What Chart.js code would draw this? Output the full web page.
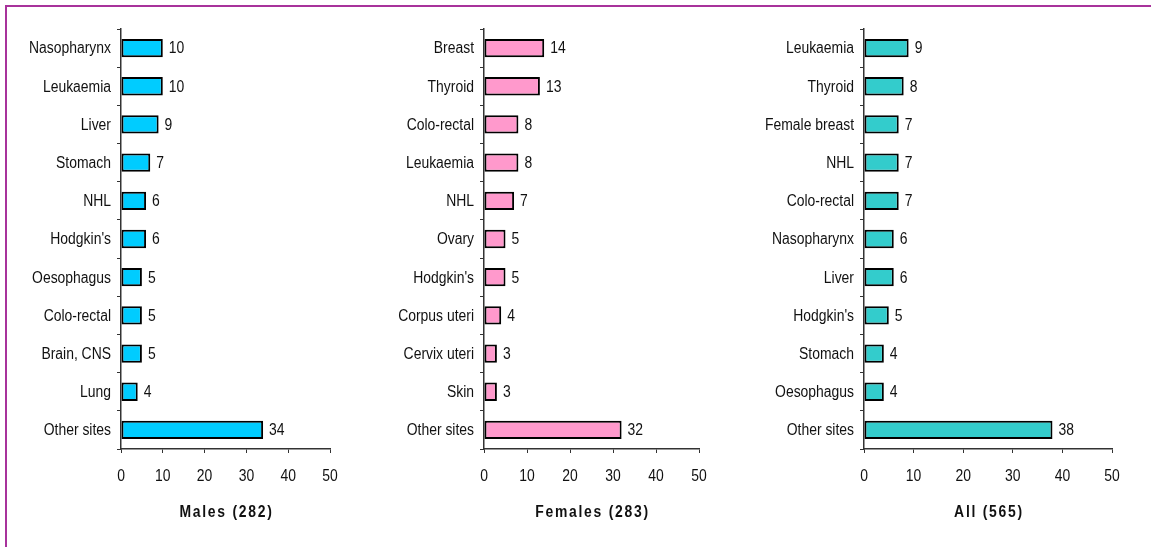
<!DOCTYPE html>
<html>
<head>
<meta charset="utf-8">
<script src="https://cdn.jsdelivr.net/npm/chart.js@4.4.1/dist/chart.umd.min.js"></script>
<style>
  html, body { margin: 0; padding: 0; background: #fff; }
  body { width: 1151px; height: 547px; position: relative; overflow: hidden; }
  .frame {
    position: absolute; left: 5px; top: 5px; right: -10px; bottom: -10px;
    border-left: 2px solid #A8329B; border-top: 2px solid #A8329B;
  }
  .panel { position: absolute; top: 8px; height: 539px; }
</style>
</head>
<body>
<div class="frame"></div>
<div class="panel" id="p-males"><canvas id="chart-males"></canvas></div>
<div class="panel" id="p-females"><canvas id="chart-females"></canvas></div>
<div class="panel" id="p-all"><canvas id="chart-all"></canvas></div>

<script>
// ── DATA ──
const maleSites    = ['Nasopharynx', 'Leukaemia', 'Liver', 'Stomach', 'NHL', "Hodgkin's",
                      'Oesophagus', 'Colo-rectal', 'Brain, CNS', 'Lung', 'Other sites'];
const maleValues   = [10, 10, 9, 7, 6, 6, 5, 5, 5, 4, 34];

const femaleSites  = ['Breast', 'Thyroid', 'Colo-rectal', 'Leukaemia', 'NHL', 'Ovary',
                      "Hodgkin's", 'Corpus uteri', 'Cervix uteri', 'Skin', 'Other sites'];
const femaleValues = [14, 13, 8, 8, 7, 5, 5, 4, 3, 3, 32];

const allSites     = ['Leukaemia', 'Thyroid', 'Female breast', 'NHL', 'Colo-rectal', 'Nasopharynx',
                      'Liver', "Hodgkin's", 'Stomach', 'Oesophagus', 'Other sites'];
const allValues    = [9, 8, 7, 7, 7, 6, 6, 5, 4, 4, 38];

const panelTitles  = ['Males (282)', 'Females (283)', 'All (565)'];
const xTicks       = [0, 10, 20, 30, 40, 50];

// ── STYLE ──
const FONT_FAMILY = "'Liberation Sans', Arial, sans-serif";
const INK = '#111111';
const NARROW = 0.87;   // horizontal squeeze, the original uses a narrow face

// panel placement (page px): canvas left, axis x, x=50 position, canvas width
const panels = [
    { id: 'males',   left: 8,   axisX: 121, endX: 330,  width: 362, color: '#00CCFF', sites: maleSites,   values: maleValues,   title: panelTitles[0] },
    { id: 'females', left: 380, axisX: 484, endX: 699,  width: 370, color: '#FF99CC', sites: femaleSites, values: femaleValues, title: panelTitles[1] },
    { id: 'all',     left: 760, axisX: 864, endX: 1112, width: 391, color: '#33CCCC', sites: allSites,    values: allValues,    title: panelTitles[2] }
];
const PLOT_TOP = 29, PLOT_BOTTOM = 449, PANEL_TOP = 8, PANEL_BOTTOM = 547;

function narrowText(ctx, text, x, y, align) {
    ctx.save();
    ctx.translate(x, y);
    ctx.scale(NARROW, 1);
    ctx.textAlign = align;
    ctx.fillText(text, 0, 0);
    ctx.restore();
}

// all labels: category names, x ticks, bar values, panel title
const narrowLabels = {
    id: 'narrowLabels',
    afterDraw(chart, args, opts) {
        const ctx = chart.ctx;
        const xs = chart.scales.x, ys = chart.scales.y;
        const area = chart.chartArea;
        const meta = chart.getDatasetMeta(0);
        const vals = chart.data.datasets[0].data;

        ctx.save();
        ctx.fillStyle = INK;
        ctx.textBaseline = 'middle';
        ctx.font = '16px ' + FONT_FAMILY;

        chart.data.labels.forEach((lab, i) => {
            narrowText(ctx, lab, area.left - 10, ys.getPixelForValue(i) + 1, 'right');
        });
        xTicks.forEach(v => {
            narrowText(ctx, String(v), xs.getPixelForValue(v), 477 - PANEL_TOP, 'center');
        });
        meta.data.forEach((bar, i) => {
            narrowText(ctx, String(vals[i]), bar.x + 6, bar.y + 1, 'left');
        });

        ctx.font = 'bold 16px ' + FONT_FAMILY;
        ctx.letterSpacing = '2px';
        narrowText(ctx, opts.title, (area.left + area.right) / 2 + 1, 513 - PANEL_TOP, 'center');
        ctx.restore();
    }
};

function drawPanel(p) {
    const box = document.getElementById('p-' + p.id);
    box.style.left = p.left + 'px';
    box.style.width = p.width + 'px';

    const ctx = document.getElementById('chart-' + p.id).getContext('2d');
    new Chart(ctx, {
        type: 'bar',
        data: {
            labels: p.sites,
            datasets: [{
                data: p.values,
                backgroundColor: p.color,
                borderColor: '#000000',
                borderWidth: 2,
                borderSkipped: false,
                categoryPercentage: 1,
                barPercentage: 0.48
            }]
        },
        options: {
            indexAxis: 'y',
            responsive: true,
            maintainAspectRatio: false,
            animation: false,
            layout: {
                padding: { top: PLOT_TOP - PANEL_TOP, right: p.left + p.width - p.endX, left: 0, bottom: 0 }
            },
            plugins: {
                legend: { display: false },
                tooltip: { enabled: false },
                narrowLabels: { title: p.title }
            },
            scales: {
                x: {
                    min: 0, max: 50,
                    afterBuildTicks: (s) => { s.ticks = xTicks.map(v => ({ value: v })); },
                    afterFit: (s) => { s.height = PANEL_BOTTOM - PLOT_BOTTOM; },
                    grid: { drawOnChartArea: false, tickLength: 4, color: '#333', lineWidth: 1 },
                    border: { color: '#333', width: 1.5 },
                    ticks: { display: false }
                },
                y: {
                    afterFit: (s) => { s.width = p.axisX - p.left; },
                    grid: { drawOnChartArea: false, tickLength: 4, color: '#333', lineWidth: 1, offset: true },
                    border: { color: '#333', width: 1.5 },
                    ticks: { display: false }
                }
            }
        },
        plugins: [narrowLabels]
    });
}

panels.forEach(drawPanel);
</script>
</body>
</html>
